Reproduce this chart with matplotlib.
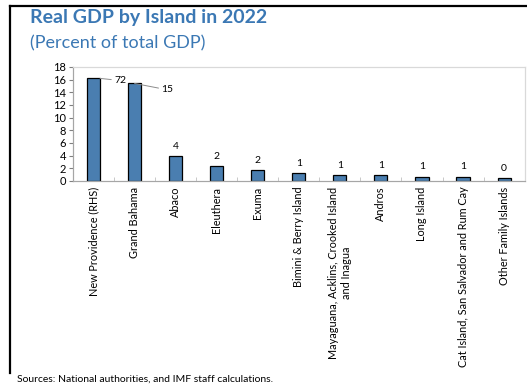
import matplotlib.pyplot as plt
import numpy as np
from matplotlib.lines import Line2D

# Share of real GDP by island, 2022 (percent); New Providence sits on the hidden right-hand scale
islands = [
    "New Providence (RHS)",
    "Grand Bahama",
    "Abaco",
    "Eleuthera",
    "Exuma",
    "Bimini & Berry Island",
    "Mayaguana, Acklins, Crooked Island\nand Inagua",
    "Andros",
    "Long Island",
    "Cat Island, San Salvador and Rum Cay",
    "Other Family Islands",
]
rhs_share = [72.0]
lhs_share = [15.4, 3.9, 2.4, 1.7, 1.3, 1.0, 0.9, 0.7, 0.7, 0.4]

BAR = "#4a7eb0"
TITLE = "#3b78b4"
plt.rcParams["font.family"] = ["Lato", "DejaVu Sans"]

fig = plt.figure(figsize=(5.27, 3.85), dpi=100)
ax = fig.add_axes([0.1385, 0.530, 0.857, 0.296])
ax2 = ax.twinx()

x = np.arange(len(islands))
width = 0.32
ax2.bar(x[:1], rhs_share, width=width, color=BAR, edgecolor="black", linewidth=0.9)
ax.bar(x[1:], lhs_share, width=width, color=BAR, edgecolor="black", linewidth=0.9)

ax.set_ylim(0, 18)
ax2.set_ylim(0, 80)
ax.set_xlim(-0.5, len(islands) - 0.5)
ax.set_yticks(np.arange(0, 19, 2))
ax.tick_params(axis="y", labelsize=8, length=3, color="#808080", pad=2)
ax2.set_yticks([])
ax.set_xticks(x, islands, rotation=90, va="top", ha="center", fontsize=7.8, multialignment="center")
ax.tick_params(axis="x", length=0, pad=4)
ax.set_xticks(np.arange(0.5, len(islands) - 0.5), minor=True)
ax.tick_params(axis="x", which="minor", direction="in", length=3, color="#bfbfbf")

for a in (ax, ax2):
    for side in ("top", "right"):
        a.spines[side].set_color("#d9d9d9")
    a.spines["left"].set_color("#a6a6a6")
    a.spines["bottom"].set_color("#a6a6a6")

# value labels: the two biggest islands get a leader line off to the right
ax2.annotate(f"{rhs_share[0]:.0f}", xy=(x[0] + width / 2, rhs_share[0]), xytext=(x[0] + 0.5, rhs_share[0] - 1.5),
             fontsize=7.5, va="center", ha="left",
             arrowprops=dict(arrowstyle="-", color="#8c8c8c", lw=0.7, shrinkA=0, shrinkB=0))
ax.annotate(f"{lhs_share[0]:.0f}", xy=(x[1], lhs_share[0]), xytext=(x[1] + 0.65, lhs_share[0] - 1.0),
            fontsize=7.5, va="center", ha="left",
            arrowprops=dict(arrowstyle="-", color="#8c8c8c", lw=0.7, shrinkA=0, shrinkB=0))
for xi, val in zip(x[2:], lhs_share[1:]):
    ax.text(xi, val + 0.8, f"{val:.0f}", ha="center", va="bottom", fontsize=7.5)

fig.text(0.057, 0.94, "Real GDP by Island in 2022", fontsize=14, fontweight="bold", color=TITLE)
fig.text(0.057, 0.875, "(Percent of total GDP)", fontsize=13, color=TITLE)
fig.text(0.032, 0.008, "Sources: National authorities, and IMF staff calculations.", fontsize=7.5)

# frame lines on the top and left of the panel
fig.add_artist(Line2D([0.019, 0.019], [0.031, 0.985], color="black", lw=1.6, transform=fig.transFigure))
fig.add_artist(Line2D([0.019, 1.0], [0.985, 0.985], color="black", lw=1.6, transform=fig.transFigure))

fig.savefig("out.png", dpi=100)
